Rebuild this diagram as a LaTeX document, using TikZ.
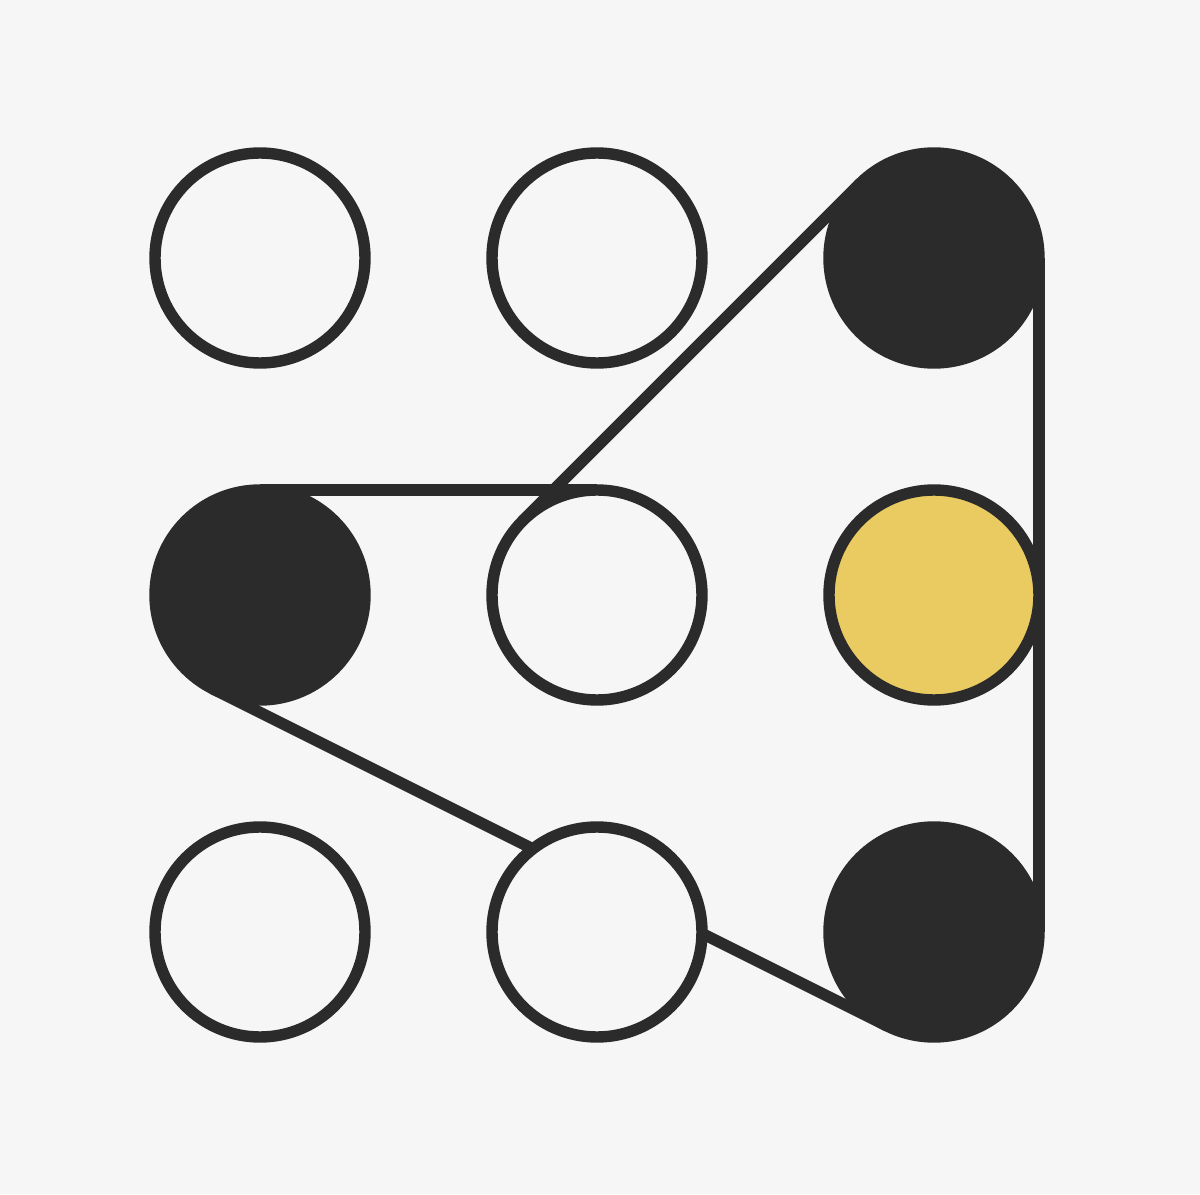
\documentclass[tikz,border=0pt]{standalone}
\usepackage{tikz}
\usetikzlibrary{backgrounds}
\definecolor{mydark}{RGB}{43,43,43}
\definecolor{myyellow}{RGB}{234,203,97}
\definecolor{mybg}{RGB}{246,246,246}
\tikzset{
    ring/.style={circle, draw=mydark, fill=mybg, line width=3.25pt,
        minimum size=2.1cm, inner sep=0pt, outer sep=0pt},
    fullring/.style={ring, fill=mydark},
    goldring/.style={ring, fill=myyellow},
    band/.style={draw=mydark, line width=3.25pt}
}

\begin{document}
\begin{tikzpicture}
    \useasboundingbox (0, 0) rectangle (12.0, 11.94);
    % top row
    \node[ring]     (tl) at (2.60, 9.36) {};
    \node[ring]     (tm) at (5.97, 9.36) {};
    \node[fullring] (tr) at (9.34, 9.36) {};
    % middle row
    \node[fullring] (ml) at (2.60, 5.99) {};
    \node[ring]     (mc) at (5.97, 5.99) {};
    \node[goldring] (mr) at (9.34, 5.99) {};
    % bottom row
    \node[ring]     (bl) at (2.60, 2.62) {};
    \node[ring]     (bc) at (5.97, 2.62) {};
    \node[fullring] (br) at (9.34, 2.62) {};
    \begin{scope}[on background layer]
        \fill[mybg] (0, 0) rectangle (12.0, 11.94);
        \draw[band] (tr.135) -- (mc.135);
        \draw[band] (mc.90) -- (ml.90);
        \draw[band] (ml.243.43) -- (br.243.43);
        \draw[band] (br.0) -- (tr.0);
    \end{scope}
\end{tikzpicture}
\end{document}
